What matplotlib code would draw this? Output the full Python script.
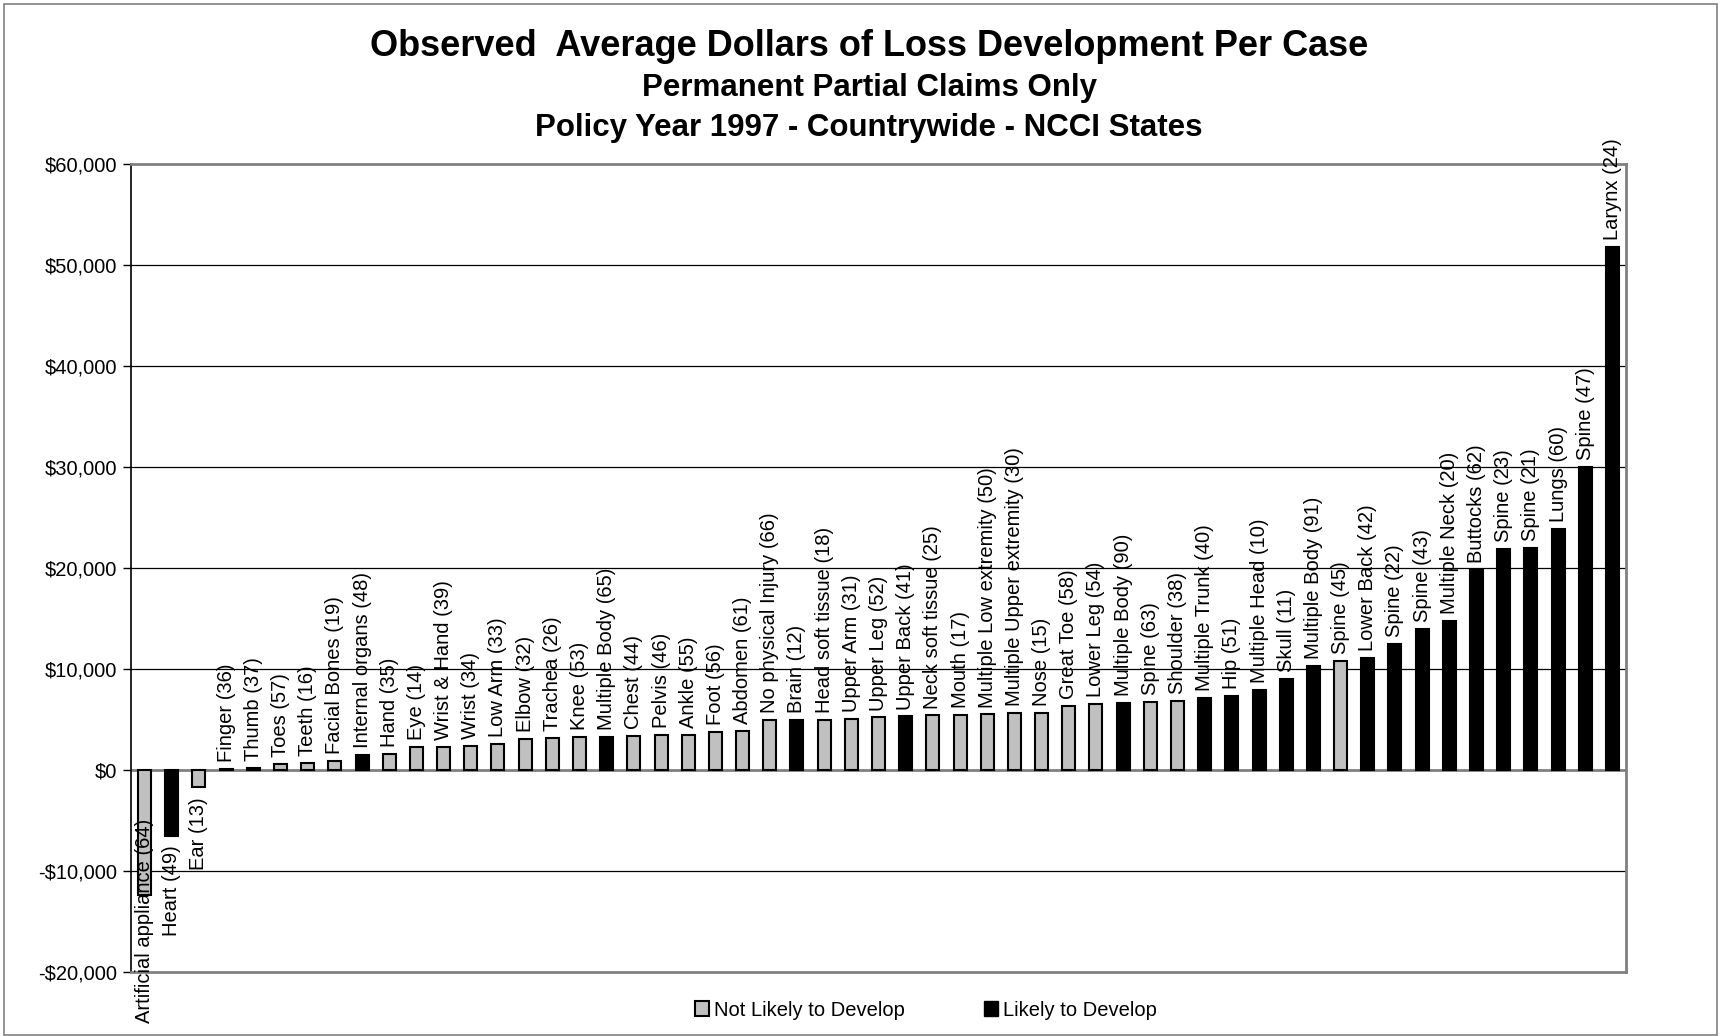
import matplotlib
matplotlib.use("Agg")
import matplotlib.pyplot as plt
from matplotlib.patches import Patch, Rectangle
from matplotlib.ticker import FuncFormatter, MultipleLocator

plt.rcParams['font.family'] = ['Liberation Sans', 'DejaVu Sans']

# -----------------------------
# DATOS
# -----------------------------
parts = [
    "Artificial appliance (64)", "Heart (49)", "Ear (13)", "Finger (36)", "Thumb (37)",
    "Toes (57)", "Teeth (16)", "Facial Bones (19)", "Internal organs (48)", "Hand (35)",
    "Eye (14)", "Wrist & Hand (39)", "Wrist (34)", "Low Arm (33)", "Elbow (32)",
    "Trachea (26)", "Knee (53)", "Multiple Body (65)", "Chest (44)", "Pelvis (46)",
    "Ankle (55)", "Foot (56)", "Abdomen (61)", "No physical Injury (66)", "Brain (12)",
    "Head soft tissue (18)", "Upper Arm (31)", "Upper Leg (52)", "Upper Back (41)",
    "Neck soft tissue (25)", "Mouth (17)", "Multiple Low extremity (50)",
    "Multiple Upper extremity (30)", "Nose (15)", "Great Toe (58)", "Lower Leg (54)",
    "Multiple Body (90)", "Spine (63)", "Shoulder (38)", "Multiple Trunk (40)", "Hip (51)",
    "Multiple Head (10)", "Skull (11)", "Multiple Body (91)", "Spine (45)",
    "Lower Back (42)", "Spine (22)", "Spine (43)", "Multiple Neck (20)", "Buttocks (62)",
    "Spine (23)", "Spine (21)", "Lungs (60)", "Spine (47)", "Larynx (24)",
]

avg_loss_dev = [
    -12400, -6500, -1700, 100, 200,
    600, 700, 850, 1500, 1550,
    2250, 2300, 2400, 2550, 3050,
    3150, 3250, 3300, 3350, 3450,
    3500, 3800, 3850, 4950, 4950,
    4950, 5050, 5200, 5300,
    5400, 5450, 5500,
    5600, 5600, 6300, 6500,
    6600, 6700, 6850, 7150, 7300,
    7900, 9000, 10300, 10800,
    11100, 12450, 13950, 14800, 19850,
    21900, 21950, 23900, 30000, 51800,
]

# 1 = Likely to Develop, 0 = Not Likely to Develop
likely = [
    0, 1, 0, 1, 1,
    0, 0, 0, 1, 0,
    0, 0, 0, 0, 0,
    0, 0, 1, 0, 0,
    0, 0, 0, 0, 1,
    0, 0, 0, 1,
    0, 0, 0,
    0, 0, 0, 0,
    1, 0, 0, 1, 1,
    1, 1, 1, 0,
    1, 1, 1, 1, 1,
    1, 1, 1, 1, 1,
]

y_ticks = [-20000, -10000, 0, 10000, 20000, 30000, 40000, 50000, 60000]

title = "Observed  Average Dollars of Loss Development Per Case"
subtitle_1 = "Permanent Partial Claims Only"
subtitle_2 = "Policy Year 1997 - Countrywide - NCCI States"

GRAY = "#C0C0C0"
BORDER = "#808080"
FS = 14.5

# -----------------------------
# FIGURA
# -----------------------------
fig = plt.figure(figsize=(17.21, 10.36), dpi=100)
ax = fig.add_axes([131 / 1721, 1 - 972 / 1036, (1626 - 131) / 1721, (972 - 164) / 1036])

x = list(range(len(parts)))
colors = ["black" if l else GRAY for l in likely]
ax.bar(x, avg_loss_dev, width=0.48, color=colors, edgecolor="black", linewidth=1.5, zorder=3)

ax.set_xlim(-0.5, len(parts) - 0.5)
ax.set_ylim(y_ticks[0], y_ticks[-1])
ax.yaxis.set_major_locator(MultipleLocator(10000))
ax.yaxis.set_major_formatter(FuncFormatter(
    lambda v, _: f"-${abs(v):,.0f}" if v < 0 else f"${v:,.0f}"))
ax.tick_params(axis="y", labelsize=FS, length=6, width=1, direction="out", pad=4)
ax.set_xticks([])

for v in y_ticks[1:-1]:
    if v != 0:
        ax.axhline(v, color="black", linewidth=0.9, zorder=1)
ax.axhline(0, color=BORDER, linewidth=2, zorder=2)

ax.spines["left"].set_color("black")
ax.spines["left"].set_linewidth(1.2)
for side in ("top", "right", "bottom"):
    ax.spines[side].set_color(BORDER)
    ax.spines[side].set_linewidth(2)

# etiquetas verticales sobre/bajo cada barra
labels = []
for xi, v, name in zip(x, avg_loss_dev, parts):
    if v >= 0:
        t = ax.annotate(name, (xi, v), xytext=(0, 5), textcoords="offset points",
                        rotation=90, ha="center", va="bottom", fontsize=FS, zorder=4,
                        annotation_clip=False)
    else:
        t = ax.annotate(name, (xi, v), xytext=(0, -7), textcoords="offset points",
                        rotation=90, ha="center", va="top", fontsize=FS, zorder=4,
                        annotation_clip=False)
    labels.append((t, v))

# las etiquetas negativas no deben salirse por abajo de la figura
fig.canvas.draw()
renderer = fig.canvas.get_renderer()
min_y = 13  # px desde abajo
for t, v in labels:
    if v < 0:
        bb = t.get_window_extent(renderer)
        if bb.y0 < min_y:
            dx, dy = t.xyann
            t.xyann = (dx, dy + (min_y - bb.y0) * 72 / fig.dpi)

fig.text(869 / 1721, 1 - 46 / 1036, title, ha="center", va="center",
         fontsize=26, fontweight="bold")
fig.text(869 / 1721, 1 - 88 / 1036, subtitle_1, ha="center", va="center",
         fontsize=22.5, fontweight="bold")
fig.text(869 / 1721, 1 - 128 / 1036, subtitle_2, ha="center", va="center",
         fontsize=22.5, fontweight="bold")

handles = [Patch(facecolor=GRAY, edgecolor="black", linewidth=1.5, label="Not Likely to Develop"),
           Patch(facecolor="black", edgecolor="black", label="Likely to Develop")]
fig.legend(handles=handles, loc="center", bbox_to_anchor=(926 / 1721, 1 - 1010 / 1036),
           ncol=2, frameon=False, fontsize=FS, handlelength=0.7, handleheight=0.7,
           handletextpad=0.25, columnspacing=3.9)

fig.patches.append(Rectangle((4 / 1721, 1 / 1036), 1713 / 1721, 1031 / 1036,
                             transform=fig.transFigure, fill=False,
                             edgecolor=BORDER, linewidth=1.2))

fig.savefig("out.png", dpi=100)
